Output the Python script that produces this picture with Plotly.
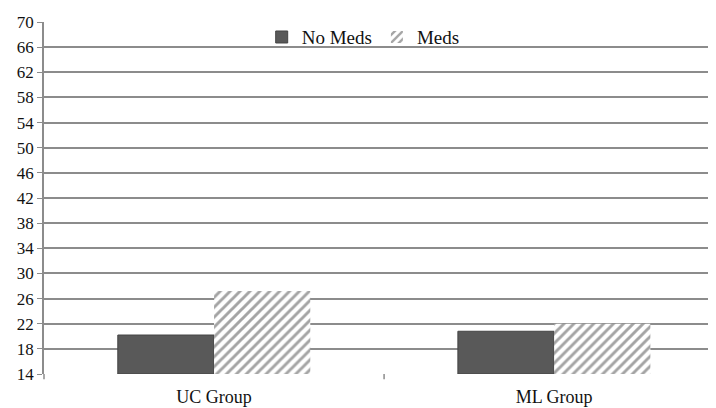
import plotly.graph_objects as go

categories = ["UC Group", "ML Group"]
no_meds = [20.2, 20.8]
meds = [27.2, 22.0]
y_ticks = [14, 18, 22, 26, 30, 34, 38, 42, 46, 50, 54, 58, 62, 66, 70]

fig = go.Figure()
fig.add_trace(go.Bar(
    x=categories, y=[v - 14 for v in no_meds], base=14, name="No Meds",
    marker=dict(color="#595959", line=dict(color="#444444", width=1)),
))
fig.add_trace(go.Bar(
    x=categories, y=[v - 14 for v in meds], base=14, name="Meds",
    marker=dict(color="white", line=dict(color="white", width=0),
                pattern=dict(shape="/", fgcolor="#4a4a4a", bgcolor="white", size=7, solidity=0.42)),
))

fig.update_layout(
    width=708, height=400,
    margin=dict(l=36, r=0, t=14, b=34),
    paper_bgcolor="white", plot_bgcolor="white",
    barmode="group", bargap=0.434, bargroupgap=0,
    font=dict(family="Liberation Serif", size=17, color="#111111"),
    showlegend=True,
    legend=dict(orientation="h", x=0.475, xanchor="center", y=0.957, yanchor="middle",
                bgcolor="rgba(0,0,0,0)", font=dict(size=19), itemwidth=30, traceorder="normal"),
    xaxis=dict(range=[-0.5, 1.476], showgrid=False, showline=False,
               ticks="", tickfont=dict(size=18), ticklabelstandoff=10),
    yaxis=dict(range=[14, 70], tickvals=y_ticks, showgrid=True, gridcolor="#8c8c8c", gridwidth=1.5,
               showline=True, linecolor="#8c8c8c", linewidth=1.5, ticks="outside", ticklen=5,
               tickcolor="#8c8c8c", tickfont=dict(size=17), zeroline=False),
)
# category divider tick at bottom
fig.add_shape(type="line", xref="x", yref="paper", x0=0.5, x1=0.5, y0=0, y1=-0.015,
              line=dict(color="#8c8c8c", width=1.5))
fig.add_shape(type="line", xref="paper", yref="paper", x0=0, x1=0, y0=0, y1=-0.015,
              line=dict(color="#8c8c8c", width=1.5))
fig.write_html("out.html")
